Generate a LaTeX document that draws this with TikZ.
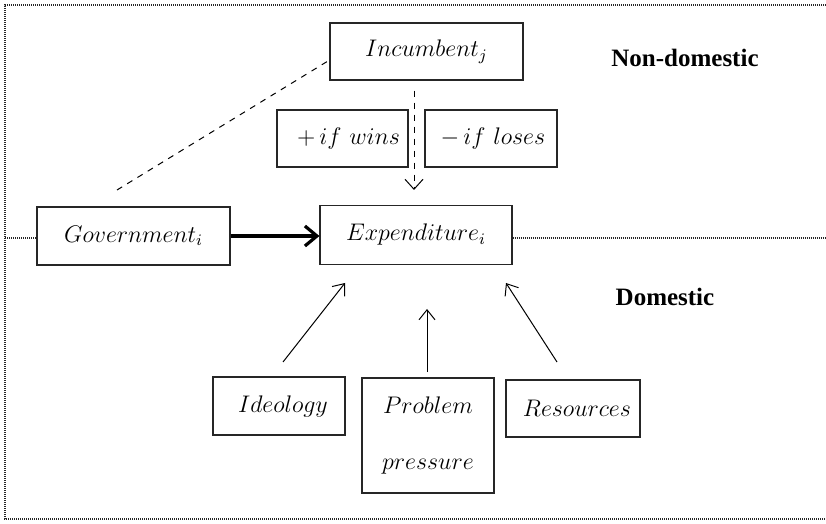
\documentclass[tikz,border=0pt]{standalone}
\usepackage{fontspec}
\newfontfamily\labfont{Liberation Serif}
\usetikzlibrary{arrows.meta}
\begin{document}
\begin{tikzpicture}[x=0.5pt,y=-0.5pt,
  box/.style={draw=black!85,line width=0.6pt,inner sep=0pt,font=\fontsize{12}{14}\selectfont},
  region/.style={font=\labfont\bfseries\fontsize{12.5}{14}\selectfont},
  frame/.style={dash pattern=on 0.5pt off 0.5pt,line width=0.8pt,black!85},
  thinarrow/.style={line width=0.5pt,-{Straight Barb[length=5pt,width=8pt]}}
  ]
\useasboundingbox (0,0) rectangle (826,524);
% frame
\draw[frame] (826,5) -- (5,5) -- (5,519) -- (826,519);
% boxes
\node[box,minimum width=96.5pt,minimum height=28.5pt] (inc) at (426.5,51.5) {$Incumbent_j$};
\node[box,minimum width=65.5pt,minimum height=28.5pt] (wins) at (342.5,138.5) {\hspace*{6pt}$+\,if\ wins$};
\node[box,minimum width=66pt,minimum height=28.5pt] (loses) at (491,138.5) {\hspace*{2pt}$-\,if\ loses$};
\node[box,minimum width=96.5pt,minimum height=29pt] (gov) at (133.5,236) {$Government_i$};
\node[box,minimum width=96pt,minimum height=29.5pt] (exp) at (416,235) {$Expenditure_i$};
\node[box,minimum width=66pt,minimum height=29pt] (ideo) at (279,406) {\hspace*{4pt}$Ideology$};
\node[box,minimum width=66pt,minimum height=57.5pt,align=center] (prob) at (428,435.5) {$Problem$\\[14pt]$pressure$};
\node[box,minimum width=67pt,minimum height=28.5pt] (res) at (573,408.5) {\hspace*{4pt}$Resources$};
% region labels
\node[region] (nd) at (685,58) {Non-domestic};
\node[region] (dom) at (665,297) {Domestic};
% domain separator
\draw[frame] (5,238) -- (gov.west |- 0,238);
\draw[frame] (exp.east |- 0,238) -- (826,238);
% connectors
\coordinate (dstart) at (117,190);
\coordinate (dend) at (328,61);
\draw[dashed,line width=0.5pt] (dstart) -- (dend);
\coordinate (arrEnd) at (414,190);
\draw[dashed,line width=0.5pt,-{Straight Barb[length=5pt,width=9pt]}] (inc.south -| arrEnd) ++(0,10) -- (arrEnd);
\draw[line width=1.6pt,-{Straight Barb[length=6pt,width=10pt]}] (gov.east) -- (exp.west |- gov.east);
\coordinate (i1) at (283,362); \coordinate (i2) at (345,283);
\coordinate (p1) at (427,372); \coordinate (p2) at (427,309);
\coordinate (r1) at (557,362); \coordinate (r2) at (506,283);
\draw[thinarrow] (i1) -- (i2);
\draw[thinarrow] (p1) -- (p2);
\draw[thinarrow] (r1) -- (r2);
\end{tikzpicture}
\end{document}
